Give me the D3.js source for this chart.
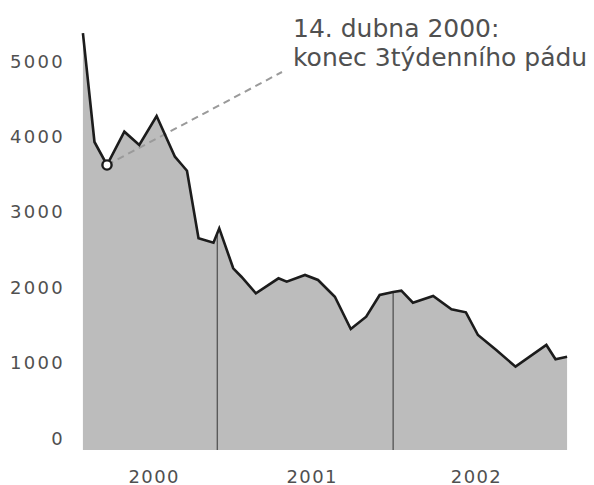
<!DOCTYPE html>
<html>
<head>
<meta charset="utf-8">
<script src="https://cdn.jsdelivr.net/npm/d3@7"></script>
<style>
  html, body { margin: 0; padding: 0; background: #ffffff; }
  svg { display: block; }
  text { font-family: "DejaVu Sans", sans-serif; fill: #505050; }
</style>
</head>
<body>
<svg id="chart" width="594" height="485"></svg>
<script>
// ---- data ----
const dates = [
  "2000-03-28","2000-04-21","2000-05-17","2000-06-22","2000-07-23","2000-08-28",
  "2000-10-05","2000-10-18","2000-10-30","2000-11-23","2000-12-24",
  "2001-01-05","2001-02-03","2001-02-20","2001-03-22","2001-05-08","2001-05-25",
  "2001-07-02","2001-07-29","2001-09-02","2001-10-05","2001-11-06","2001-12-04",
  "2002-01-01","2002-01-18","2002-02-11","2002-03-25","2002-05-02","2002-06-01",
  "2002-06-26","2002-08-03","2002-09-12","2002-11-15","2002-12-04","2002-12-28"
];
const values = [
  5530, 4085, 3780, 4222, 4045, 4430,
  3890, 3793, 3704, 2808, 2749,
  2940, 2410, 2298, 2078, 2277, 2232,
  2321, 2255, 2033, 1605, 1768, 2056,
  2095, 2113, 1954, 2042, 1866, 1826,
  1525, 1326, 1105, 1393, 1203, 1237
];
const yTicks = [0, 1000, 2000, 3000, 4000, 5000];
const yearLabels = ["2000", "2001", "2002"];
const yearLabelDates = ["2000-08-23", "2001-07-17", "2002-06-23"];
const yearDividers = ["2001-01-01", "2002-01-01"];
const annotationDate = "2000-05-17";
const annotationLines = ["14. dubna 2000:", "konec 3týdenního pádu"];

// ---- setup ----
const parse = d3.timeParse("%Y-%m-%d");
const data = dates.map((d, i) => ({ date: parse(d), value: values[i] }));

const svg = d3.select("#chart");
const x = d3.scaleTime()
  .domain([parse("2000-01-01"), parse("2003-01-01")])
  .range([41, 569]);
const y = d3.scaleLinear().domain([0, 5000]).range([450, 73]);

const area = d3.area().x(d => x(d.date)).y0(y(0)).y1(d => y(d.value));
const line = d3.line().x(d => x(d.date)).y(d => y(d.value));

svg.append("defs").append("clipPath").attr("id", "areaClip")
  .append("path").attr("d", area(data));

// area
svg.append("path").attr("d", area(data)).attr("fill", "#bcbcbc");

// year dividers (clipped to area)
svg.append("g").attr("clip-path", "url(#areaClip)")
  .selectAll("line").data(yearDividers).join("line")
  .attr("x1", d => x(parse(d))).attr("x2", d => x(parse(d)))
  .attr("y1", y(0)).attr("y2", y(6000))
  .attr("stroke", "#5a5a5a").attr("stroke-width", 1.4);

// annotation dashed leader
const aPt = data.find(d => +d.date === +parse(annotationDate));
const textX = 293;
svg.append("line")
  .attr("x1", x(aPt.date)).attr("y1", y(aPt.value))
  .attr("x2", textX - 11).attr("y2", 72)
  .attr("stroke", "#9a9a9a").attr("stroke-width", 2)
  .attr("stroke-dasharray", "7,5");

// line
svg.append("path").attr("d", line(data))
  .attr("fill", "none").attr("stroke", "#1c1c1c")
  .attr("stroke-width", 2.6).attr("stroke-linejoin", "miter");

// marker
svg.append("circle")
  .attr("cx", x(aPt.date)).attr("cy", y(aPt.value)).attr("r", 4.6)
  .attr("fill", "#ffffff").attr("stroke", "#1c1c1c").attr("stroke-width", 2.4);

// y labels
svg.append("g").selectAll("text").data(yTicks).join("text")
  .attr("x", 65).attr("y", d => y(d) - 5.5)
  .attr("text-anchor", "end")
  .style("font-size", "18px").style("letter-spacing", "2.3px")
  .text(d => d);

// x labels
svg.append("g").selectAll("text").data(yearLabels).join("text")
  .attr("x", (d, i) => x(parse(yearLabelDates[i])))
  .attr("y", 482.5)
  .attr("text-anchor", "middle")
  .style("font-size", "18px").style("letter-spacing", "1.4px")
  .text(d => d);

// annotation text
svg.append("g").selectAll("text").data(annotationLines).join("text")
  .attr("x", textX).attr("y", (d, i) => 36.5 + i * 29.5)
  .style("font-size", "25px")
  .text(d => d);
</script>
</body>
</html>
